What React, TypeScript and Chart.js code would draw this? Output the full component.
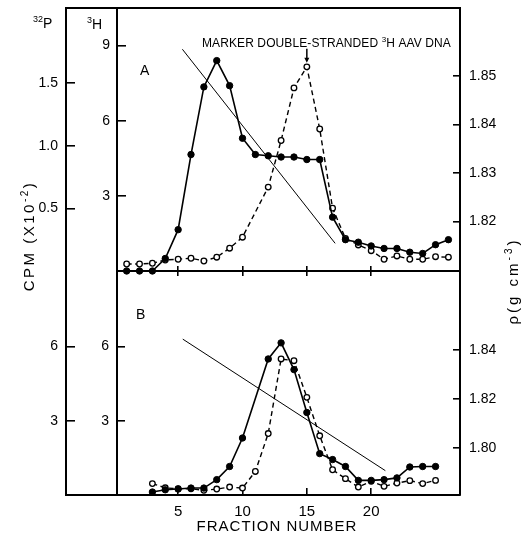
import React, { useEffect, useRef } from 'react';
import { Chart, registerables } from 'chart.js';

Chart.register(...registerables);

// ---------- Panel A ----------
const fractionsA32P = [1, 2, 3, 4, 5, 6, 7, 8, 9, 10, 11, 12, 13, 14, 15, 16, 17, 18, 19, 20, 21, 22, 23, 24, 25, 26];
const valuesA32P = [0, 0, 0, 0.10, 0.33, 0.93, 1.47, 1.68, 1.48, 1.06, 0.93, 0.92, 0.91, 0.91, 0.89, 0.89, 0.43, 0.25, 0.23, 0.20, 0.18, 0.18, 0.15, 0.14, 0.21, 0.25];
const fractionsA3H = [1, 2, 3, 4, 5, 6, 7, 8, 9, 10, 12, 13, 14, 15, 16, 17, 18, 19, 20, 21, 22, 23, 24, 25, 26];
const valuesA3H = [0.28, 0.28, 0.31, 0.44, 0.47, 0.51, 0.40, 0.55, 0.91, 1.35, 3.35, 5.21, 7.31, 8.15, 5.67, 2.51, 1.30, 1.04, 0.81, 0.47, 0.60, 0.47, 0.47, 0.57, 0.55];
const densityAFractions = [5.33, 17.2];
const densityAValues = [1.8555, 1.8155];

// ---------- Panel B ----------
const fractionsB32P = [3, 4, 5, 6, 7, 8, 9, 10, 12, 13, 14, 15, 16, 17, 18, 19, 20, 21, 22, 23, 24, 25];
const valuesB32P = [0.12, 0.21, 0.24, 0.28, 0.28, 0.62, 1.15, 2.30, 5.49, 6.14, 5.06, 3.33, 1.67, 1.43, 1.15, 0.59, 0.59, 0.62, 0.69, 1.13, 1.15, 1.15];
const fractionsB3H = [3, 4, 5, 6, 7, 8, 9, 10, 11, 12, 13, 14, 15, 16, 17, 18, 19, 20, 21, 22, 23, 24, 25];
const valuesB3H = [0.46, 0.29, 0.25, 0.25, 0.19, 0.24, 0.32, 0.28, 0.95, 2.48, 5.49, 5.42, 3.94, 2.39, 1.02, 0.66, 0.32, 0.55, 0.35, 0.48, 0.58, 0.46, 0.59];
const densityBFractions = [5.36, 21.1];
const densityBValues = [1.8444, 1.7909];

// ---------- Ticks ----------
const xTickValues = [5, 10, 15, 20];
const a32PTicks = [0.5, 1.0, 1.5];
const a3HTicks = [3, 6, 9];
const aRhoTicks = [1.82, 1.83, 1.84, 1.85];
const bCpmTicks = [3, 6];
const bRhoTicks = [1.80, 1.82, 1.84];

const markerFraction = 15;
const markerPeak = 8.15;

const FONT = '"Liberation Sans", Arial, Helvetica, sans-serif';
const X_MIN = 0.25;
const X_MAX = 26.9;

type Part = [string, boolean?];

function drawRich(ctx: CanvasRenderingContext2D, parts: Part[], x: number, y: number, size: number,
  align: 'left' | 'center' | 'right', spacing = 0, weight = 'normal') {
  ctx.save();
  ctx.fillStyle = '#000';
  ctx.textBaseline = 'alphabetic';
  ctx.textAlign = 'left';
  (ctx as any).letterSpacing = `${spacing}px`;
  const supSize = Math.round(size * 0.64);
  const widths = parts.map(([t, sup]) => {
    ctx.font = `${weight} ${sup ? supSize : size}px ${FONT}`;
    return ctx.measureText(t).width;
  });
  const total = widths.reduce((a, b) => a + b, 0);
  let cx = align === 'left' ? x : align === 'center' ? x - total / 2 : x - total;
  parts.forEach(([t, sup], i) => {
    ctx.font = `${weight} ${sup ? supSize : size}px ${FONT}`;
    ctx.fillText(t, cx, sup ? y - size * 0.42 : y);
    cx += widths[i];
  });
  ctx.restore();
}

function drawRotated(ctx: CanvasRenderingContext2D, parts: Part[], baselineX: number, cy: number, size: number, spacing: number) {
  ctx.save();
  ctx.translate(baselineX, cy);
  ctx.rotate(-Math.PI / 2);
  drawRich(ctx, parts, 0, 0, size, 'center', spacing);
  ctx.restore();
}

const pts = (xs: number[], ys: number[]) => xs.map((x, i) => ({ x, y: ys[i] }));

function yAxis(position: 'left' | 'right', weight: number, min: number, max: number, ticks: number[],
  decimals: number, width: number, tickLen: number, labelGap: number) {
  return {
    type: 'linear',
    position,
    weight,
    min,
    max,
    afterBuildTicks: (s: any) => { s.ticks = ticks.map((value) => ({ value })); },
    ticks: {
      color: '#000',
      font: { family: FONT, size: 14 },
      padding: labelGap + tickLen,
      callback: (v: any) => Number(v).toFixed(decimals),
    },
    grid: { drawOnChartArea: false, drawTicks: true, tickLength: -tickLen, color: '#000', lineWidth: 1.6 },
    border: { display: true, color: '#000', width: 2 },
    afterFit: (s: any) => { s.width = width; s.paddingTop = 0; s.paddingBottom = 0; },
  };
}

function xAxis(position: 'top' | 'bottom', showLabels: boolean, height: number, tickLen: number, showBorder: boolean) {
  return {
    type: 'linear',
    position,
    min: X_MIN,
    max: X_MAX,
    afterBuildTicks: (s: any) => { s.ticks = xTickValues.map((value) => ({ value })); },
    ticks: {
      display: showLabels,
      color: '#000',
      font: { family: FONT, size: 15 },
      padding: 8 + tickLen,
      maxRotation: 0,
      autoSkip: false,
    },
    grid: { drawOnChartArea: false, drawTicks: true, tickLength: -tickLen, color: '#000', lineWidth: 1.6 },
    border: { display: showBorder, color: '#000', width: 2 },
    afterFit: (s: any) => { s.height = height; s.paddingLeft = 0; s.paddingRight = 0; },
  };
}

const filledStyle = {
  borderColor: '#000', borderWidth: 1.6, pointRadius: 3.2, pointBackgroundColor: '#000',
  pointBorderColor: '#000', pointBorderWidth: 1, tension: 0, clip: false as any,
};
const openStyle = {
  borderColor: '#000', borderWidth: 1.4, borderDash: [5, 3.5], pointRadius: 2.8, pointBackgroundColor: '#fff',
  pointBorderColor: '#000', pointBorderWidth: 1.3, tension: 0, clip: false as any,
};
const densityStyle = { borderColor: '#000', borderWidth: 1, pointRadius: 0, tension: 0, clip: false as any };

const panelAPlugin = {
  id: 'panelA',
  afterDraw(chart: any) {
    const ctx: CanvasRenderingContext2D = chart.ctx;
    const { chartArea, scales } = chart;
    ctx.save();
    ctx.strokeStyle = '#000';
    ctx.lineWidth = 2;
    ctx.beginPath();
    ctx.moveTo(scales.yP.right - 1, chartArea.top);
    ctx.lineTo(chartArea.right + 1, chartArea.top);
    ctx.stroke();
    // arrow to the marker peak
    const px = scales.x.getPixelForValue(markerFraction);
    const py = scales.yH.getPixelForValue(markerPeak);
    ctx.lineWidth = 1.5;
    ctx.beginPath();
    ctx.moveTo(px, py - 18);
    ctx.lineTo(px, py - 6);
    ctx.stroke();
    ctx.fillStyle = '#000';
    ctx.beginPath();
    ctx.moveTo(px, py - 4);
    ctx.lineTo(px - 2.5, py - 9);
    ctx.lineTo(px + 2.5, py - 9);
    ctx.closePath();
    ctx.fill();
    ctx.restore();
    drawRich(ctx, [['MARKER DOUBLE-STRANDED '], ['3', true], ['H AAV DNA']], 202, py - 20, 12, 'left', 0.1);
    drawRich(ctx, [['A']], 140, 75, 14, 'left');
    drawRich(ctx, [['32', true], ['P']], 33, 28, 14, 'left');
    drawRich(ctx, [['3', true], ['H']], 87, 29, 14, 'left');
  },
};

const panelBPlugin = {
  id: 'panelB',
  afterDraw(chart: any) {
    const ctx: CanvasRenderingContext2D = chart.ctx;
    const { chartArea, scales } = chart;
    ctx.save();
    ctx.strokeStyle = '#000';
    ctx.lineWidth = 2;
    ctx.beginPath();
    ctx.moveTo(scales.yP.right - 1, chartArea.bottom);
    ctx.lineTo(chartArea.left, chartArea.bottom);
    ctx.stroke();
    ctx.restore();
    drawRich(ctx, [['B']], 136, 319, 14, 'left');
    drawRich(ctx, [['FRACTION NUMBER']], 277, 531, 15, 'center', 1);
    drawRotated(ctx, [['CPM (X10'], ['-2', true], [')']], 34, 236, 15, 2.5);
    drawRotated(ctx, [['\u03c1(g cm'], ['-3', true], [')']], 518, 281, 15, 3);
  },
};

export default function App() {
  const refA = useRef<HTMLCanvasElement>(null);
  const refB = useRef<HTMLCanvasElement>(null);

  useEffect(() => {
    const common = {
      responsive: false,
      animation: false as const,
      events: [] as any[],
      plugins: { legend: { display: false }, tooltip: { enabled: false } },
    };
    const chartA = new Chart(refA.current as HTMLCanvasElement, {
      type: 'line',
      data: {
        datasets: [
          { ...filledStyle, data: pts(fractionsA32P, valuesA32P), xAxisID: 'x', yAxisID: 'yP' },
          { ...openStyle, data: pts(fractionsA3H, valuesA3H), xAxisID: 'x', yAxisID: 'yH' },
          { ...densityStyle, data: pts(densityAFractions, densityAValues), xAxisID: 'x', yAxisID: 'yR' },
        ] as any,
      },
      options: {
        ...common,
        layout: { padding: { left: 0, top: 8, right: 0, bottom: 252 }, autoPadding: false },
        scales: {
          x: xAxis('bottom', false, 10, 5, true),
          yP: yAxis('left', 2, 0, 2.1, a32PTicks, 1, 66, 9, 8),
          yH: yAxis('left', 1, 0, 10.5, a3HTicks, 0, 51, 9, 7),
          yR: yAxis('right', 1, 1.8098, 1.864, aRhoTicks, 2, 67, 7, 9),
        } as any,
      } as any,
      plugins: [panelAPlugin],
    });
    const chartB = new Chart(refB.current as HTMLCanvasElement, {
      type: 'line',
      data: {
        datasets: [
          { ...filledStyle, data: pts(fractionsB32P, valuesB32P), xAxisID: 'x', yAxisID: 'yP' },
          { ...openStyle, data: pts(fractionsB3H, valuesB3H), xAxisID: 'x', yAxisID: 'yH' },
          { ...densityStyle, data: pts(densityBFractions, densityBValues), xAxisID: 'x', yAxisID: 'yR' },
        ] as any,
      },
      options: {
        ...common,
        layout: { padding: { left: 0, top: 271, right: 0, bottom: 0 }, autoPadding: false },
        scales: {
          x: xAxis('bottom', true, 38, 7, true),
          xTop: xAxis('top', false, 0, 5, false),
          yP: yAxis('left', 2, 0, 9.04, bCpmTicks, 0, 66, 9, 8),
          yH: yAxis('left', 1, 0, 9.04, bCpmTicks, 0, 51, 8, 8),
          yR: yAxis('right', 1, 1.781, 1.8721, bRhoTicks, 2, 67, 7, 9),
        } as any,
      } as any,
      plugins: [panelBPlugin],
    });
    return () => { chartA.destroy(); chartB.destroy(); };
  }, []);

  return (
    <div style={{ position: 'absolute', left: 0, top: 0, width: 527, height: 533, background: '#fff' }}>
      <canvas ref={refA} width={527} height={533} style={{ position: 'absolute', left: 0, top: 0 }} />
      <canvas ref={refB} width={527} height={533} style={{ position: 'absolute', left: 0, top: 0 }} />
    </div>
  );
}
